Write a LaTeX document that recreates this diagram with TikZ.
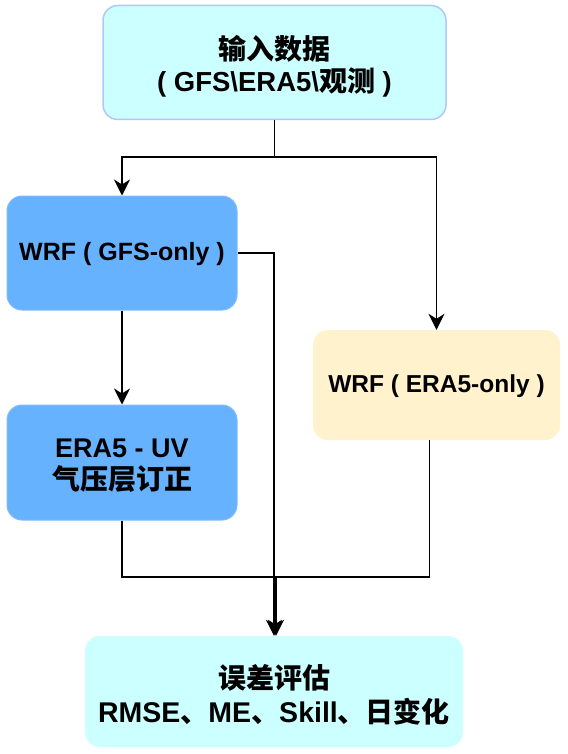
\documentclass[tikz,border=0pt]{standalone}
\usepackage{fontspec}
\setmainfont{Liberation Sans}
\newfontfamily\cjk{Noto Sans CJK SC}
\usetikzlibrary{arrows.meta}
\definecolor{cyanfill}{HTML}{CCFFFF}
\definecolor{topborder}{HTML}{B0C8F8}
\definecolor{bluefill}{HTML}{66B2FF}
\definecolor{blueborder}{HTML}{80BCFA}
\definecolor{yellowfill}{HTML}{FFF2CC}
\newcommand{\C}[1]{{\cjk\fontsize{28}{33}\selectfont #1}}
\begin{document}
\begin{tikzpicture}[x=1pt,y=-1pt,
  box/.style={rounded corners=15pt, inner sep=0pt},
  txt/.style={align=center, inner sep=0pt},
  arr/.style={-{Stealth[length=16pt,width=16pt,inset=5pt]}, line width=1.5pt},
  ln/.style={line width=1.5pt}]
\useasboundingbox (0,0) rectangle (567,754);
\node[box, fill=cyanfill, draw=topborder, line width=1.5pt, minimum width=343pt, minimum height=114pt,
  label={[txt, yshift=-3.5pt, font=\bfseries\fontsize{27.5}{32}\selectfont]center:{\C{输入数据}\\( GFS\textbackslash ERA5\textbackslash\C{观测} )}}] (top) at (274.5,62.5) {};
\node[box, fill=bluefill, draw=blueborder, line width=1pt, minimum width=230pt, minimum height=114pt,
  label={[txt, yshift=-1pt, font=\bfseries\fontsize{25}{32}\selectfont]center:{WRF ( GFS-only )}}] (gfs) at (122,253) {};
\node[box, fill=bluefill, draw=blueborder, line width=1pt, minimum width=230pt, minimum height=115pt,
  label={[txt, yshift=-3.5pt, font=\bfseries\fontsize{27}{32}\selectfont]center:{ERA5 - UV\\\C{气压层订正}}}] (uv) at (122,462.5) {};
\node[box, fill=yellowfill, minimum width=247pt, minimum height=110pt,
  label={[txt, yshift=-1.5pt, font=\bfseries\fontsize{24.5}{32}\selectfont]center:{WRF ( ERA5-only )}}] (era) at (436.5,385) {};
\node[box, fill=cyanfill, minimum width=378pt, minimum height=111pt,
  label={[txt, yshift=-3pt, font=\bfseries\fontsize{28.5}{34}\selectfont]center:{\C{误差评估}\\RMSE\C{、}ME\C{、}Skill\C{、日变化}}}] (eval) at (274,691.5) {};
\coordinate (split) at (274.5,157);
\coordinate (merge) at (276,577);
\draw[ln] (top.south) -- (split);
\draw[arr] (split) -| (gfs.north);
\draw[arr] (split) -| (era.north);
\draw[arr] (gfs.south) -- (uv.north);
\draw[arr] (gfs.east) -| (eval.north);
\draw[ln] (uv.south) |- (merge);
\draw[ln] ([xshift=-7pt]era.south) |- (merge);
\draw[arr, line width=2.2pt] (merge) -- ([xshift=2pt]eval.north);
\end{tikzpicture}
\end{document}
